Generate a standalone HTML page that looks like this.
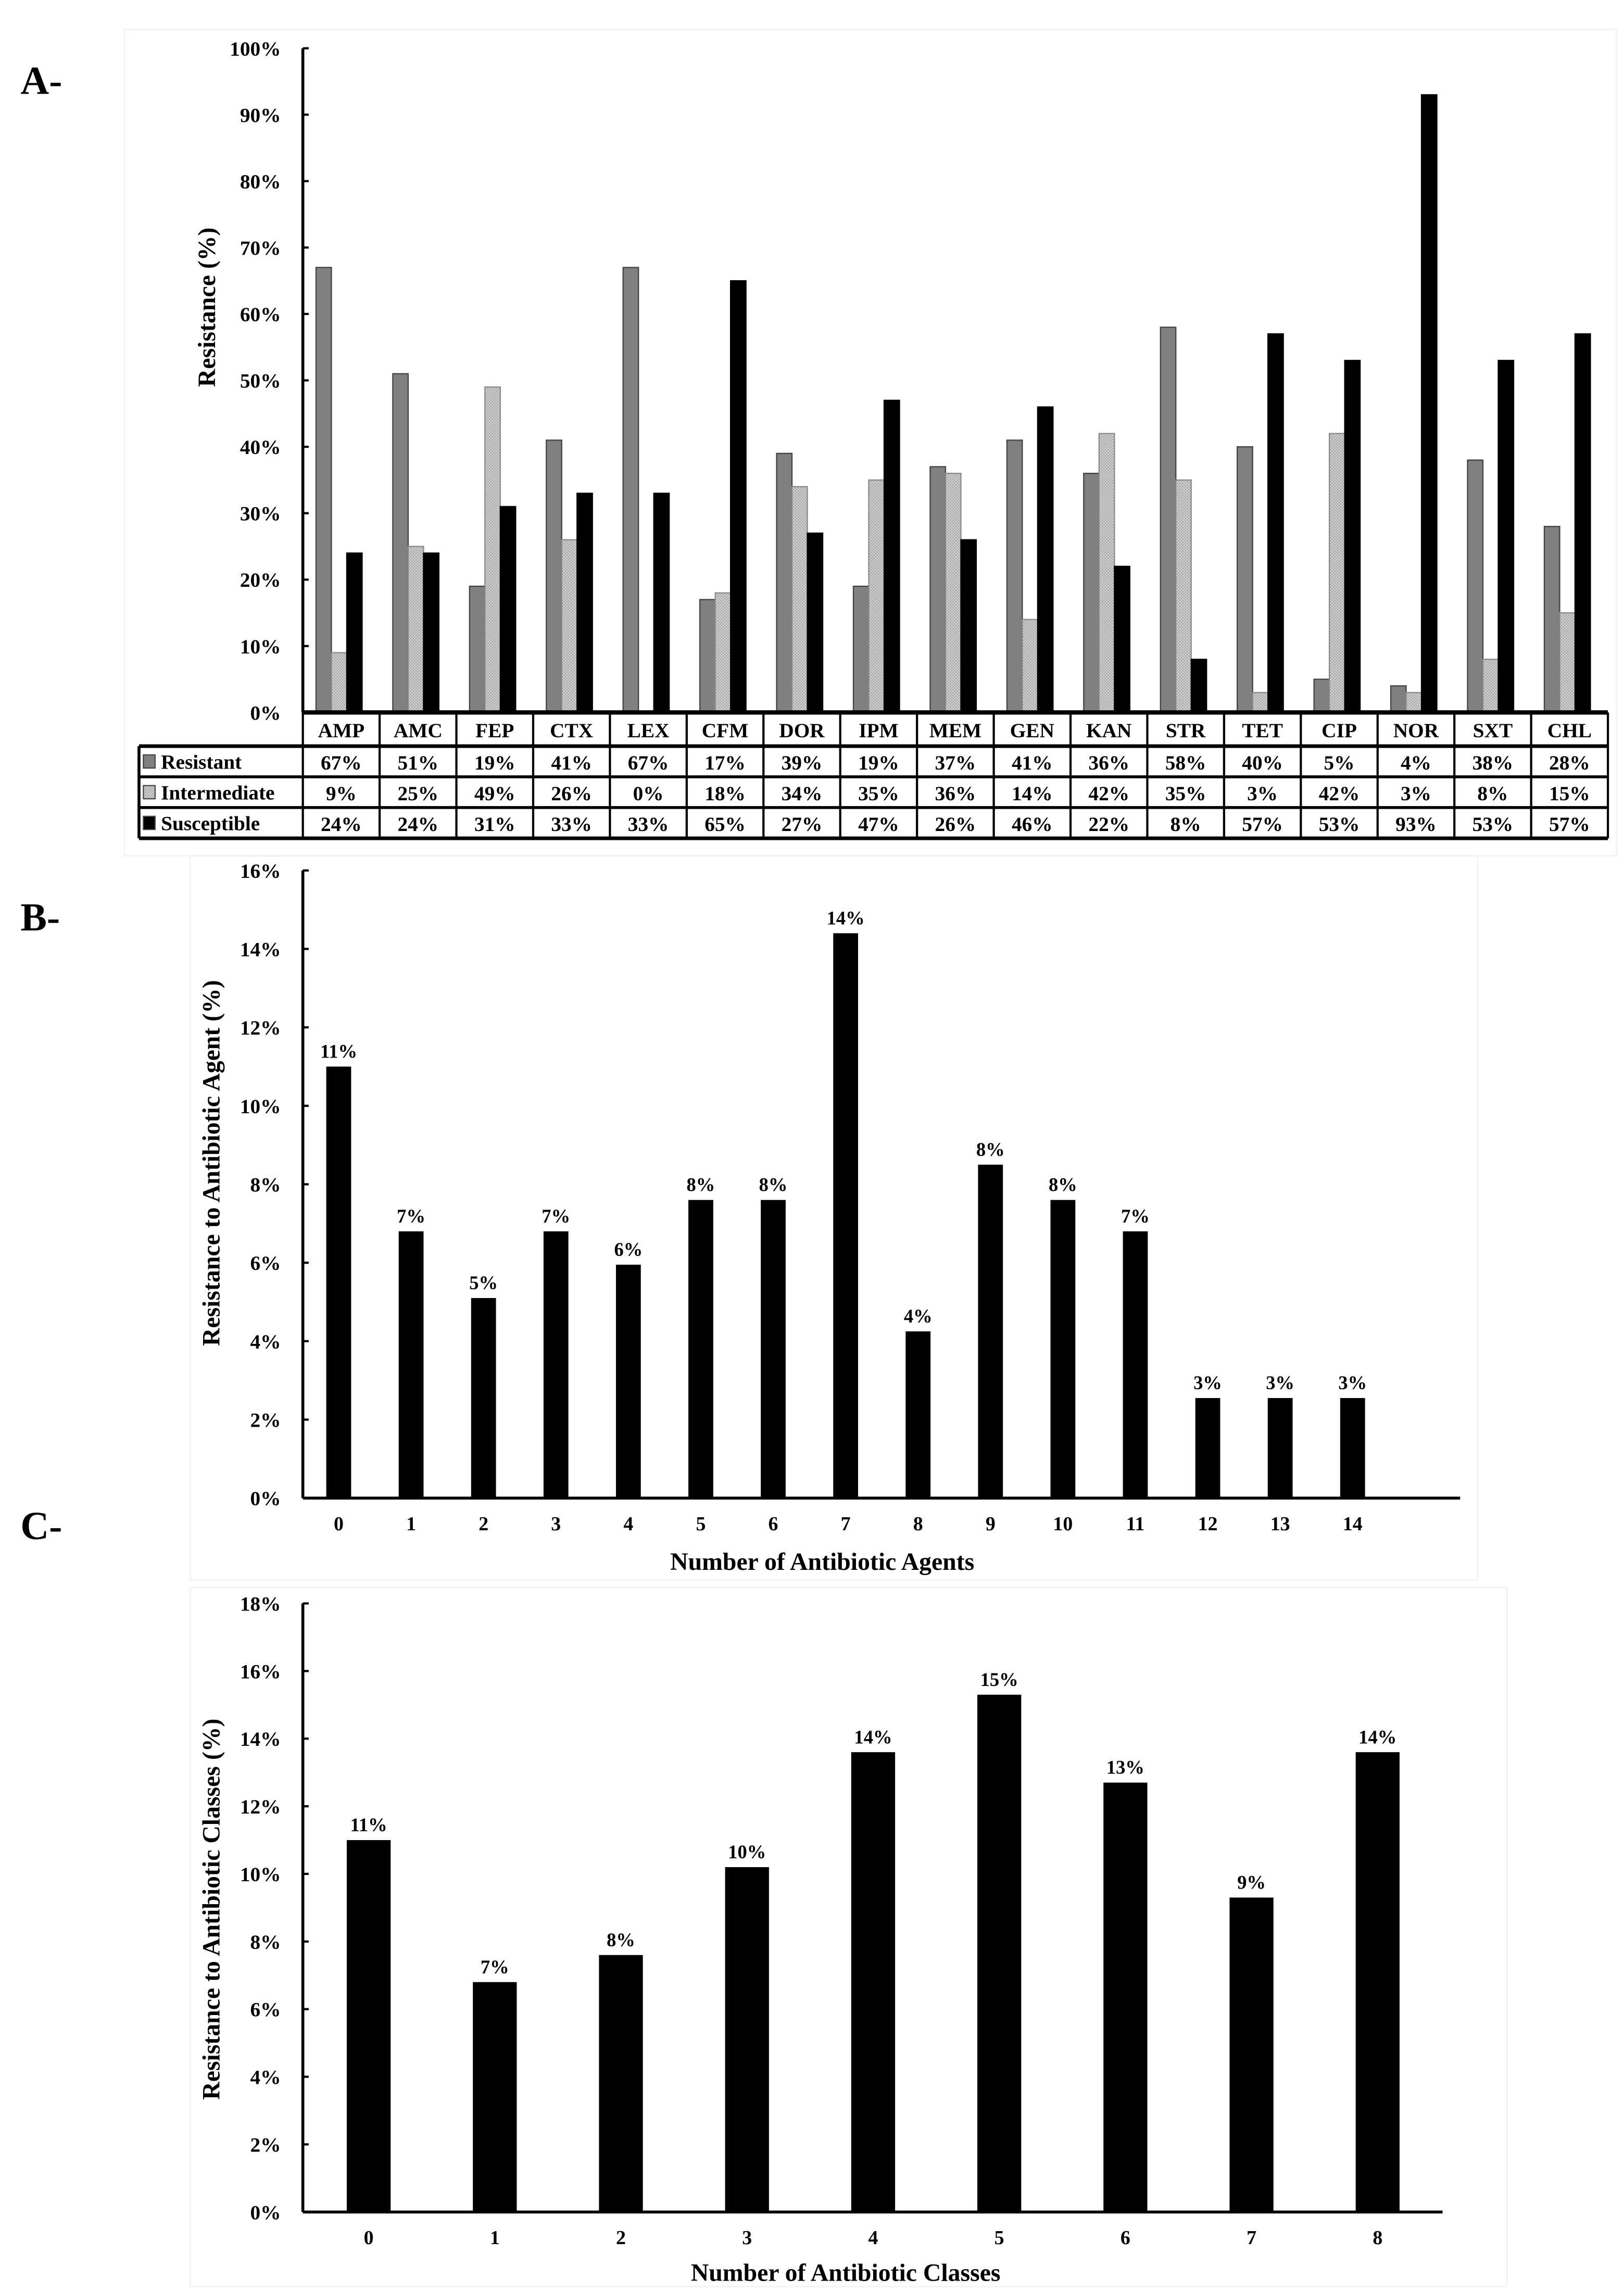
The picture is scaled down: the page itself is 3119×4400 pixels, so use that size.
<!DOCTYPE html>
<html><head><meta charset="utf-8"><style>
html,body{margin:0;padding:0;background:#fff}
svg{display:block}
text{font-family:"Liberation Serif",serif;font-weight:bold;fill:#000}
</style></head><body>
<svg id="fig" width="3119" height="4400" viewBox="0 0 1110 1566" preserveAspectRatio="none" xmlns="http://www.w3.org/2000/svg">
<defs>
<pattern id="chk" width="2" height="2" patternUnits="userSpaceOnUse">
<rect width="2" height="2" fill="#d4d4d4"/><rect width="1" height="1" fill="#a8a8a8"/><rect x="1" y="1" width="1" height="1" fill="#a8a8a8"/>
</pattern>
</defs>
<rect x="85" y="20" width="1020" height="565" fill="none" stroke="#f2f2f2" stroke-width="1"/>
<rect x="130" y="585" width="880" height="495" fill="none" stroke="#f2f2f2" stroke-width="1"/>
<rect x="130" y="1085" width="900" height="478" fill="none" stroke="#f2f2f2" stroke-width="1"/>
<text x="14" y="64" font-size="27">A-</text>
<text x="14" y="636" font-size="27">B-</text>
<text x="14" y="1052" font-size="27">C-</text>
<g id="gA"></g>
<g id="gB"></g>
<g id="gC"></g>
</svg>
<script>
const drugs = ["AMP","AMC","FEP","CTX","LEX","CFM","DOR","IPM","MEM","GEN","KAN","STR","TET","CIP","NOR","SXT","CHL"];
const resistant = [67,51,19,41,67,17,39,19,37,41,36,58,40,5,4,38,28];
const intermediate = [9,25,49,26,0,18,34,35,36,14,42,35,3,42,3,8,15];
const susceptible = [24,24,31,33,33,65,27,47,26,46,22,8,57,53,93,53,57];
const ticksA = ["0%","10%","20%","30%","40%","50%","60%","70%","80%","90%","100%"];

const agentsCats = ["0","1","2","3","4","5","6","7","8","9","10","11","12","13","14"];
const agentsVals = [11,6.8,5.1,6.8,5.95,7.6,7.6,14.4,4.25,8.5,7.6,6.8,2.55,2.55,2.55];
const agentsLabels = ["11%","7%","5%","7%","6%","8%","8%","14%","4%","8%","8%","7%","3%","3%","3%"];
const ticksB = ["0%","2%","4%","6%","8%","10%","12%","14%","16%"];

const classCats = ["0","1","2","3","4","5","6","7","8"];
const classVals = [11,6.8,7.6,10.2,13.6,15.3,12.7,9.3,13.6];
const classLabels = ["11%","7%","8%","10%","14%","15%","13%","9%","14%"];
const ticksC = ["0%","2%","4%","6%","8%","10%","12%","14%","16%","18%"];

const NS="http://www.w3.org/2000/svg";
function mk(p,tag,a,txt){const e=document.createElementNS(NS,tag);for(const k in a)e.setAttribute(k,a[k]);if(txt!==undefined)e.textContent=txt;p.appendChild(e);return e;}

/* ---------- Panel A ---------- */
(function(){
const g=document.getElementById('gA');
const x0=207,x1=1099,yTop=33,yBot=487,maxV=100;
const yS=v=>yBot-(v/maxV)*(yBot-yTop);
const cw=(x1-x0)/drugs.length;
const ax=mk(g,'line',{x1:x0,y1:yTop,x2:x0,y2:yBot,stroke:'#000','stroke-width':2});


ticksA.forEach((t,i)=>{const v=parseFloat(t);const y=yS(v);
 mk(g,'line',{x1:x0,y1:y,x2:x0+4,y2:y,stroke:'#000','stroke-width':1.5});
 const tx=mk(g,'text',{x:192,y:y+5,'font-size':14,'text-anchor':'end'},t);
 
 
});
const yt=mk(g,'text',{x:0,y:0,'font-size':17,'text-anchor':'middle',transform:'translate(147,210) rotate(-90)'},'Resistance (%)');


const bw=10.5,off=9;
const series=[[resistant,'#808080','#404040'],[intermediate,'url(#chk)','#888'],[susceptible,'#000','#000']];
drugs.forEach((d,i)=>{
 series.forEach((s,j)=>{const v=s[0][i];if(v<=0)return;
  const r=mk(g,'rect',{x:x0+i*cw+off+j*bw,y:yS(v),width:bw,height:yBot-yS(v),fill:s[1],stroke:s[2],'stroke-width':0.8});
  
  
 });
});
const rowH=[487,510,531,552,573];
const lx=95;
mk(g,'line',{x1:x0,y1:yBot,x2:x1,y2:yBot,stroke:'#000','stroke-width':3});
for(let r=1;r<rowH.length;r++){mk(g,'line',{x1:lx,y1:rowH[r],x2:x1,y2:rowH[r],stroke:'#000','stroke-width':r===1||r===4?2.5:2});}
mk(g,'line',{x1:lx,y1:rowH[1],x2:lx,y2:rowH[4],stroke:'#000','stroke-width':2});
for(let i=0;i<=drugs.length;i++){const x=x0+i*cw;mk(g,'line',{x1:x,y1:yBot,x2:x,y2:rowH[4],stroke:'#000','stroke-width':1.5});}
drugs.forEach((d,i)=>{const cx=x0+(i+0.5)*cw;
 const h=mk(g,'text',{x:cx,y:504,'font-size':14,'text-anchor':'middle'},d);
 
 
 [resistant,intermediate,susceptible].forEach((arr,j)=>{
  const c=mk(g,'text',{x:cx,y:rowH[j+1]+16,'font-size':14,'text-anchor':'middle'},arr[i]+'%');
  
  
 });
});
const names=['Resistant','Intermediate','Susceptible'];
names.forEach((n,j)=>{const y=rowH[j+1];
 const sw=mk(g,'rect',{x:98,y:y+6,width:8,height:9,fill:series[j][1],stroke:'#444','stroke-width':0.8});
 
 
 const t=mk(g,'text',{x:110,y:y+15.5,'font-size':14},n);
 
 
});
})();

function barChart(gid,cats,vals,labels,ticks,o){
 const g=document.getElementById(gid);
 const maxV=parseFloat(ticks[ticks.length-1]);
 const yS=v=>o.yBot-(v/maxV)*(o.yBot-o.yTop);
 const xC=i=>o.c0+i*o.step;
 const ax=mk(g,'line',{x1:o.x0,y1:o.yTop,x2:o.x0,y2:o.yBot,stroke:'#000','stroke-width':2});
 
 
 const xa=mk(g,'line',{x1:o.x0,y1:o.yBot,x2:o.xEnd,y2:o.yBot,stroke:'#000','stroke-width':2});
 
 
 ticks.forEach(t=>{const y=yS(parseFloat(t));
  mk(g,'line',{x1:o.x0,y1:y,x2:o.x0+4,y2:y,stroke:'#000','stroke-width':1.5});
  const tx=mk(g,'text',{x:192,y:y+5,'font-size':14,'text-anchor':'end'},t);
  
  
 });
 cats.forEach((c,i)=>{const cx=xC(i);const v=vals[i];
  const r=mk(g,'rect',{x:cx-o.bw/2,y:yS(v),width:o.bw,height:o.yBot-yS(v),fill:'#000'});
  
  
  const l=mk(g,'text',{x:cx,y:yS(v)-6,'font-size':13,'text-anchor':'middle'},labels[i]);
  
  
  const xt=mk(g,'text',{x:cx,y:o.yBot+22,'font-size':13.5,'text-anchor':'middle'},c);
  
  
 });
 const xt=mk(g,'text',{x:o.xTitleX,y:o.xTitleY,'font-size':17,'text-anchor':'middle'},o.xTitle);
 
 
 const yt=mk(g,'text',{x:0,y:0,'font-size':17,'text-anchor':'middle',transform:'translate(150,'+o.yTitleY+') rotate(-90)'},o.yTitle);
 
 
}
barChart('gB',agentsCats,agentsVals,agentsLabels,ticksB,{x0:207,xEnd:998,yTop:595,yBot:1024,c0:231.5,step:49.5,bw:17,xTitle:'Number of Antibiotic Agents',xTitleX:562,xTitleY:1073,yTitle:'Resistance to Antibiotic Agent (%)',yTitleY:795});
barChart('gC',classCats,classVals,classLabels,ticksC,{x0:207,xEnd:986,yTop:1096,yBot:1512,c0:252,step:86.2,bw:30,xTitle:'Number of Antibiotic Classes',xTitleX:578,xTitleY:1559,yTitle:'Resistance to Antibiotic Classes (%)',yTitleY:1305});
</script>
</body></html>
